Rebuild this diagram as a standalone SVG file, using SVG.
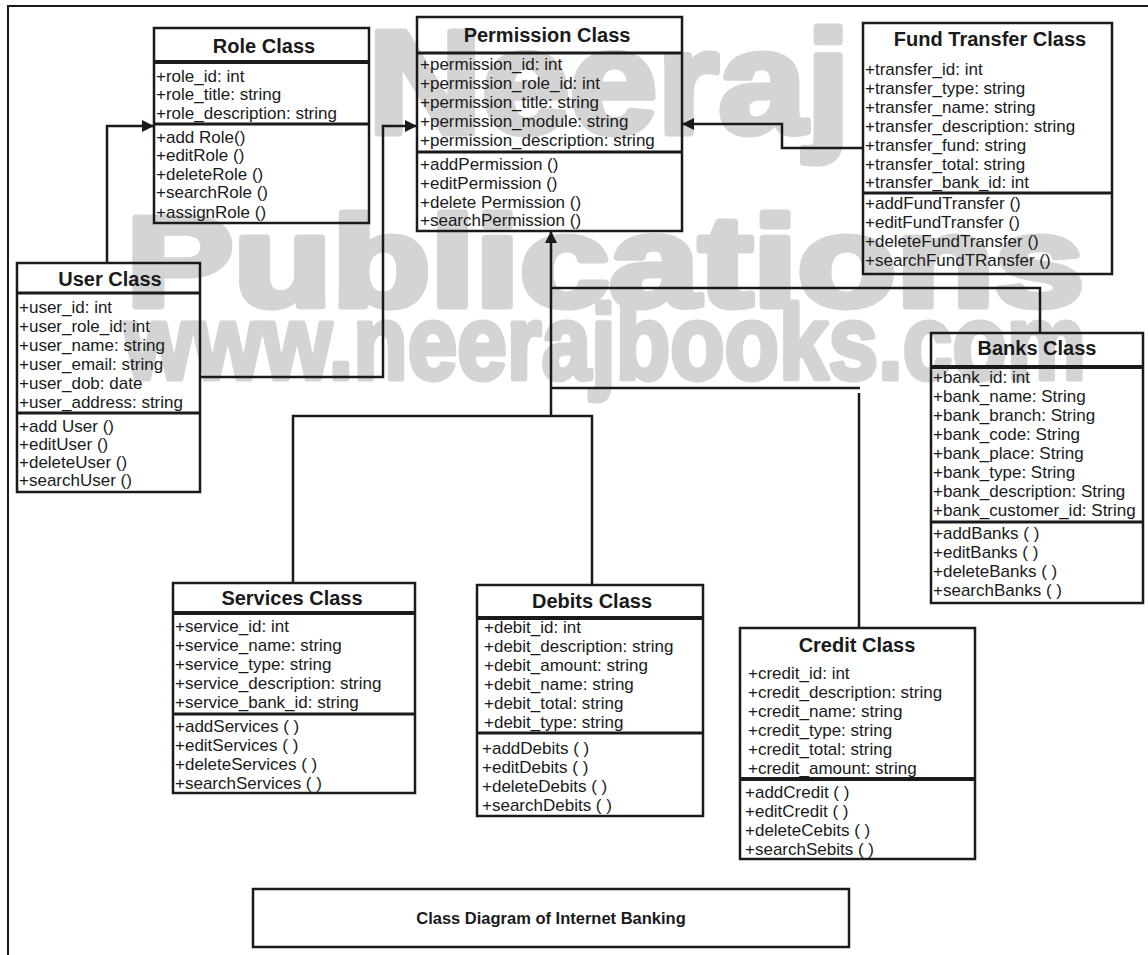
<svg xmlns="http://www.w3.org/2000/svg" width="1148" height="955" viewBox="0 0 1148 955">
<style>
.wm{font-family:"Liberation Sans",Arial,sans-serif;font-weight:bold;fill:#d4d4d4;stroke:#d4d4d4;stroke-linejoin:round}
.box{fill:none;stroke:#1a1a1a;stroke-width:2.5}
.sep{stroke:#1a1a1a;stroke-width:3}
.hd{stroke:#1a1a1a;stroke-width:4}
.t{font-family:"Liberation Sans",Arial,sans-serif;font-size:20px;font-weight:bold;fill:#1a1a1a;text-anchor:middle}
.a{font-family:"Liberation Sans",Arial,sans-serif;font-size:17px;fill:#1a1a1a}
.c{fill:none;stroke:#1a1a1a;stroke-width:2.5}
.cap{font-family:"Liberation Sans",Arial,sans-serif;font-size:16.5px;font-weight:bold;fill:#1a1a1a;text-anchor:middle}
</style>
<defs>
<marker id="arr" markerWidth="12" markerHeight="12" refX="12" refY="6" orient="auto" markerUnits="userSpaceOnUse">
<path d="M0,0 L12,6 L0,12 Z" fill="#1a1a1a"/>
</marker>
</defs>
<rect width="1148" height="955" fill="#ffffff"/>
<g id="watermark">
<text class="wm" x="368" y="133" font-size="146" stroke-width="7" textLength="482" lengthAdjust="spacingAndGlyphs">Neeraj</text>
<text class="wm" x="126" y="306" font-size="128" stroke-width="7" textLength="958" lengthAdjust="spacingAndGlyphs">Publications</text>
<text class="wm" x="124" y="379" font-size="106" stroke-width="5" textLength="962" lengthAdjust="spacingAndGlyphs">www.neerajbooks.com</text>
</g>
<g id="frame">
<path d="M8,955 V6 H1148" fill="none" stroke="#1a1a1a" stroke-width="2"/>
</g>
<g id="connectors">
<path class="c" d="M107,263 V126 H154" marker-end="url(#arr)"/>
<path class="c" d="M200,377 H383 V126 H417" marker-end="url(#arr)"/>
<path class="c" d="M863,148 H782 V124 H682" marker-end="url(#arr)"/>
<path class="c" d="M551,416 V231" marker-end="url(#arr)"/>
<path class="c" d="M551,288 H1040 V333"/>
<path class="c" d="M551,388 H860"/>
<path class="c" d="M859,393 V628"/>
<path class="c" d="M293,583 V416 H592 V585"/>
</g>
<g id="role">
<rect class="box" x="154" y="28" width="215" height="195"/>
<line class="hd" x1="154" y1="62" x2="369" y2="62"/>
<line class="sep" x1="154" y1="124" x2="369" y2="124"/>
<text class="t" x="264" y="53">Role Class</text>
<text class="a" x="156" y="82">+role_id: int</text>
<text class="a" x="156" y="100">+role_title: string</text>
<text class="a" x="156" y="119">+role_description: string</text>
<text class="a" x="156" y="143">+add Role()</text>
<text class="a" x="156" y="161">+editRole ()</text>
<text class="a" x="156" y="180">+deleteRole ()</text>
<text class="a" x="156" y="198">+searchRole ()</text>
<text class="a" x="156" y="218">+assignRole ()</text>
</g>
<g id="permission">
<rect class="box" x="417" y="17" width="265" height="214"/>
<line class="sep" x1="417" y1="53" x2="682" y2="53"/>
<line class="sep" x1="417" y1="152" x2="682" y2="152"/>
<text class="t" x="547" y="42">Permission Class</text>
<text class="a" x="420" y="70">+permission_id: int</text>
<text class="a" x="420" y="89">+permission_role_id: int</text>
<text class="a" x="420" y="108">+permission_title: string</text>
<text class="a" x="420" y="127">+permission_module: string</text>
<text class="a" x="420" y="146">+permission_description: string</text>
<text class="a" x="420" y="170">+addPermission ()</text>
<text class="a" x="420" y="189">+editPermission ()</text>
<text class="a" x="420" y="208">+delete Permission ()</text>
<text class="a" x="420" y="226">+searchPermission ()</text>
</g>
<g id="fundtransfer">
<rect class="box" x="863" y="23" width="249" height="251"/>
<line class="sep" x1="863" y1="193" x2="1112" y2="193"/>
<text class="t" x="990" y="46">Fund Transfer Class</text>
<text class="a" x="865" y="75">+transfer_id: int</text>
<text class="a" x="865" y="94">+transfer_type: string</text>
<text class="a" x="865" y="113">+transfer_name: string</text>
<text class="a" x="865" y="132">+transfer_description: string</text>
<text class="a" x="865" y="151">+transfer_fund: string</text>
<text class="a" x="865" y="170">+transfer_total: string</text>
<text class="a" x="865" y="188">+transfer_bank_id: int</text>
<text class="a" x="865" y="209">+addFundTransfer ()</text>
<text class="a" x="865" y="228">+editFundTransfer ()</text>
<text class="a" x="865" y="247">+deleteFundTransfer ()</text>
<text class="a" x="865" y="266">+searchFundTRansfer ()</text>
</g>
<g id="user">
<rect class="box" x="17" y="263" width="183" height="229"/>
<line class="sep" x1="17" y1="293" x2="200" y2="293"/>
<line class="sep" x1="17" y1="413" x2="200" y2="413"/>
<text class="t" x="110" y="286">User Class</text>
<text class="a" x="19" y="313">+user_id: int</text>
<text class="a" x="19" y="332">+user_role_id: int</text>
<text class="a" x="19" y="351">+user_name: string</text>
<text class="a" x="19" y="370">+user_email: string</text>
<text class="a" x="19" y="389">+user_dob: date</text>
<text class="a" x="19" y="408">+user_address: string</text>
<text class="a" x="19" y="432">+add User ()</text>
<text class="a" x="19" y="450">+editUser ()</text>
<text class="a" x="19" y="468">+deleteUser ()</text>
<text class="a" x="19" y="486">+searchUser ()</text>
</g>
<g id="banks">
<rect class="box" x="931" y="333" width="212" height="270"/>
<line class="hd" x1="931" y1="367" x2="1143" y2="367"/>
<line class="sep" x1="931" y1="522" x2="1143" y2="522"/>
<text class="t" x="1037" y="355">Banks Class</text>
<text class="a" x="933" y="383">+bank_id: int</text>
<text class="a" x="933" y="402">+bank_name: String</text>
<text class="a" x="933" y="421">+bank_branch: String</text>
<text class="a" x="933" y="440">+bank_code: String</text>
<text class="a" x="933" y="459">+bank_place: String</text>
<text class="a" x="933" y="478">+bank_type: String</text>
<text class="a" x="933" y="497">+bank_description: String</text>
<text class="a" x="933" y="516">+bank_customer_id: String</text>
<text class="a" x="933" y="539">+addBanks ( )</text>
<text class="a" x="933" y="558">+editBanks ( )</text>
<text class="a" x="933" y="577">+deleteBanks ( )</text>
<text class="a" x="933" y="596">+searchBanks ( )</text>
</g>
<g id="services">
<rect class="box" x="173" y="583" width="242" height="210"/>
<line class="hd" x1="173" y1="613" x2="415" y2="613"/>
<line class="sep" x1="173" y1="714" x2="415" y2="714"/>
<text class="t" x="292" y="605">Services Class</text>
<text class="a" x="175" y="632">+service_id: int</text>
<text class="a" x="175" y="651">+service_name: string</text>
<text class="a" x="175" y="670">+service_type: string</text>
<text class="a" x="175" y="689">+service_description: string</text>
<text class="a" x="175" y="708">+service_bank_id: string</text>
<text class="a" x="175" y="732">+addServices ( )</text>
<text class="a" x="175" y="751">+editServices ( )</text>
<text class="a" x="175" y="770">+deleteServices ( )</text>
<text class="a" x="175" y="789">+searchServices ( )</text>
</g>
<g id="debits">
<rect class="box" x="477" y="585" width="226" height="231"/>
<line class="hd" x1="477" y1="618" x2="703" y2="618"/>
<line class="sep" x1="477" y1="733" x2="703" y2="733"/>
<text class="t" x="592" y="608">Debits Class</text>
<text class="a" x="484" y="633">+debit_id: int</text>
<text class="a" x="484" y="652">+debit_description: string</text>
<text class="a" x="484" y="671">+debit_amount: string</text>
<text class="a" x="484" y="690">+debit_name: string</text>
<text class="a" x="484" y="709">+debit_total: string</text>
<text class="a" x="484" y="728">+debit_type: string</text>
<text class="a" x="482" y="754">+addDebits ( )</text>
<text class="a" x="482" y="773">+editDebits ( )</text>
<text class="a" x="482" y="792">+deleteDebits ( )</text>
<text class="a" x="482" y="811">+searchDebits ( )</text>
</g>
<g id="credit">
<rect class="box" x="740" y="628" width="235" height="231"/>
<line class="hd" x1="740" y1="779" x2="975" y2="779"/>
<text class="t" x="857" y="652">Credit Class</text>
<text class="a" x="748" y="679">+credit_id: int</text>
<text class="a" x="748" y="698">+credit_description: string</text>
<text class="a" x="748" y="717">+credit_name: string</text>
<text class="a" x="748" y="736">+credit_type: string</text>
<text class="a" x="748" y="755">+credit_total: string</text>
<text class="a" x="748" y="774">+credit_amount: string</text>
<text class="a" x="745" y="798">+addCredit ( )</text>
<text class="a" x="745" y="817">+editCredit ( )</text>
<text class="a" x="745" y="836">+deleteCebits ( )</text>
<text class="a" x="745" y="855">+searchSebits ( )</text>
</g>
<g id="caption">
<rect class="box" x="253" y="889" width="596" height="58"/>
<text class="cap" x="551" y="924">Class Diagram of Internet Banking</text>
</g>
</svg>
